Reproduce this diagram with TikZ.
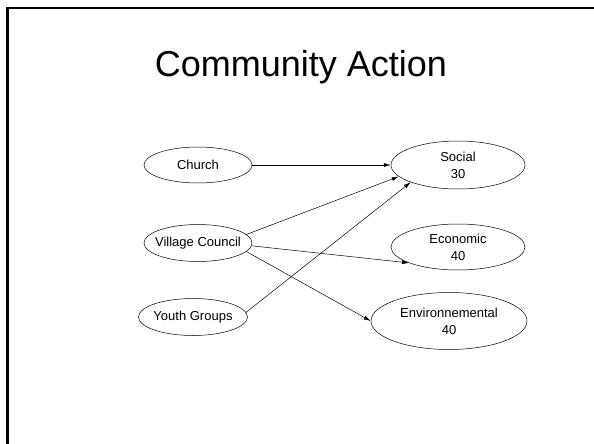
\documentclass[tikz,border=0pt]{standalone}
\usepackage{fontspec}
\setmainfont{Liberation Sans}
\usepackage{tikz}
\usetikzlibrary{arrows.meta,shapes.geometric}

\tikzset{
  group/.style={draw, ellipse, line width=0.5pt, inner sep=-6pt,
    align=center, font=\fontsize{13}{17}\selectfont},
  link/.style={-{Latex[length=7pt,width=4pt]}, line width=0.5pt}
}

\begin{document}
\begin{tikzpicture}[x=1pt,y=-1pt]
        \useasboundingbox (0,0) rectangle (594,444);

        % frame
        \draw[line width=2.5pt] (7.5,444) -- (7.5,8) -- (594,8);

        % title
        \node[anchor=base, font=\fontsize{36}{40}\selectfont] (title) at (301,77) {Community Action};

        % groups
        \node[group, minimum width=108pt, minimum height=36pt] (church) at (198,165) {Church};
        \node[group, minimum width=108pt, minimum height=37pt] (council) at (198,243) {Village Council};
        \node[group, minimum width=109pt, minimum height=37pt] (youth) at (193,317) {Youth Groups};

        % actions
        \node[group, minimum width=134pt, minimum height=48pt] (social) at (458,165) {Social\\30};
        \node[group, minimum width=134pt, minimum height=46pt] (economic) at (458,247) {Economic\\40};
        \node[group, minimum width=156pt, minimum height=57pt] (environ) at (449,321) {Environnemental\\40};

        % links
        \draw[link] (church.east) -- (social.west);
        \draw[link] (council.10) -- (social.191);
        \draw[link] (youth.5) -- (social.200);
        \draw[link] (council.-3) -- (economic.198);
        \draw[link] (council.-10) -- (environ.west);

      \end{tikzpicture}
\end{document}
